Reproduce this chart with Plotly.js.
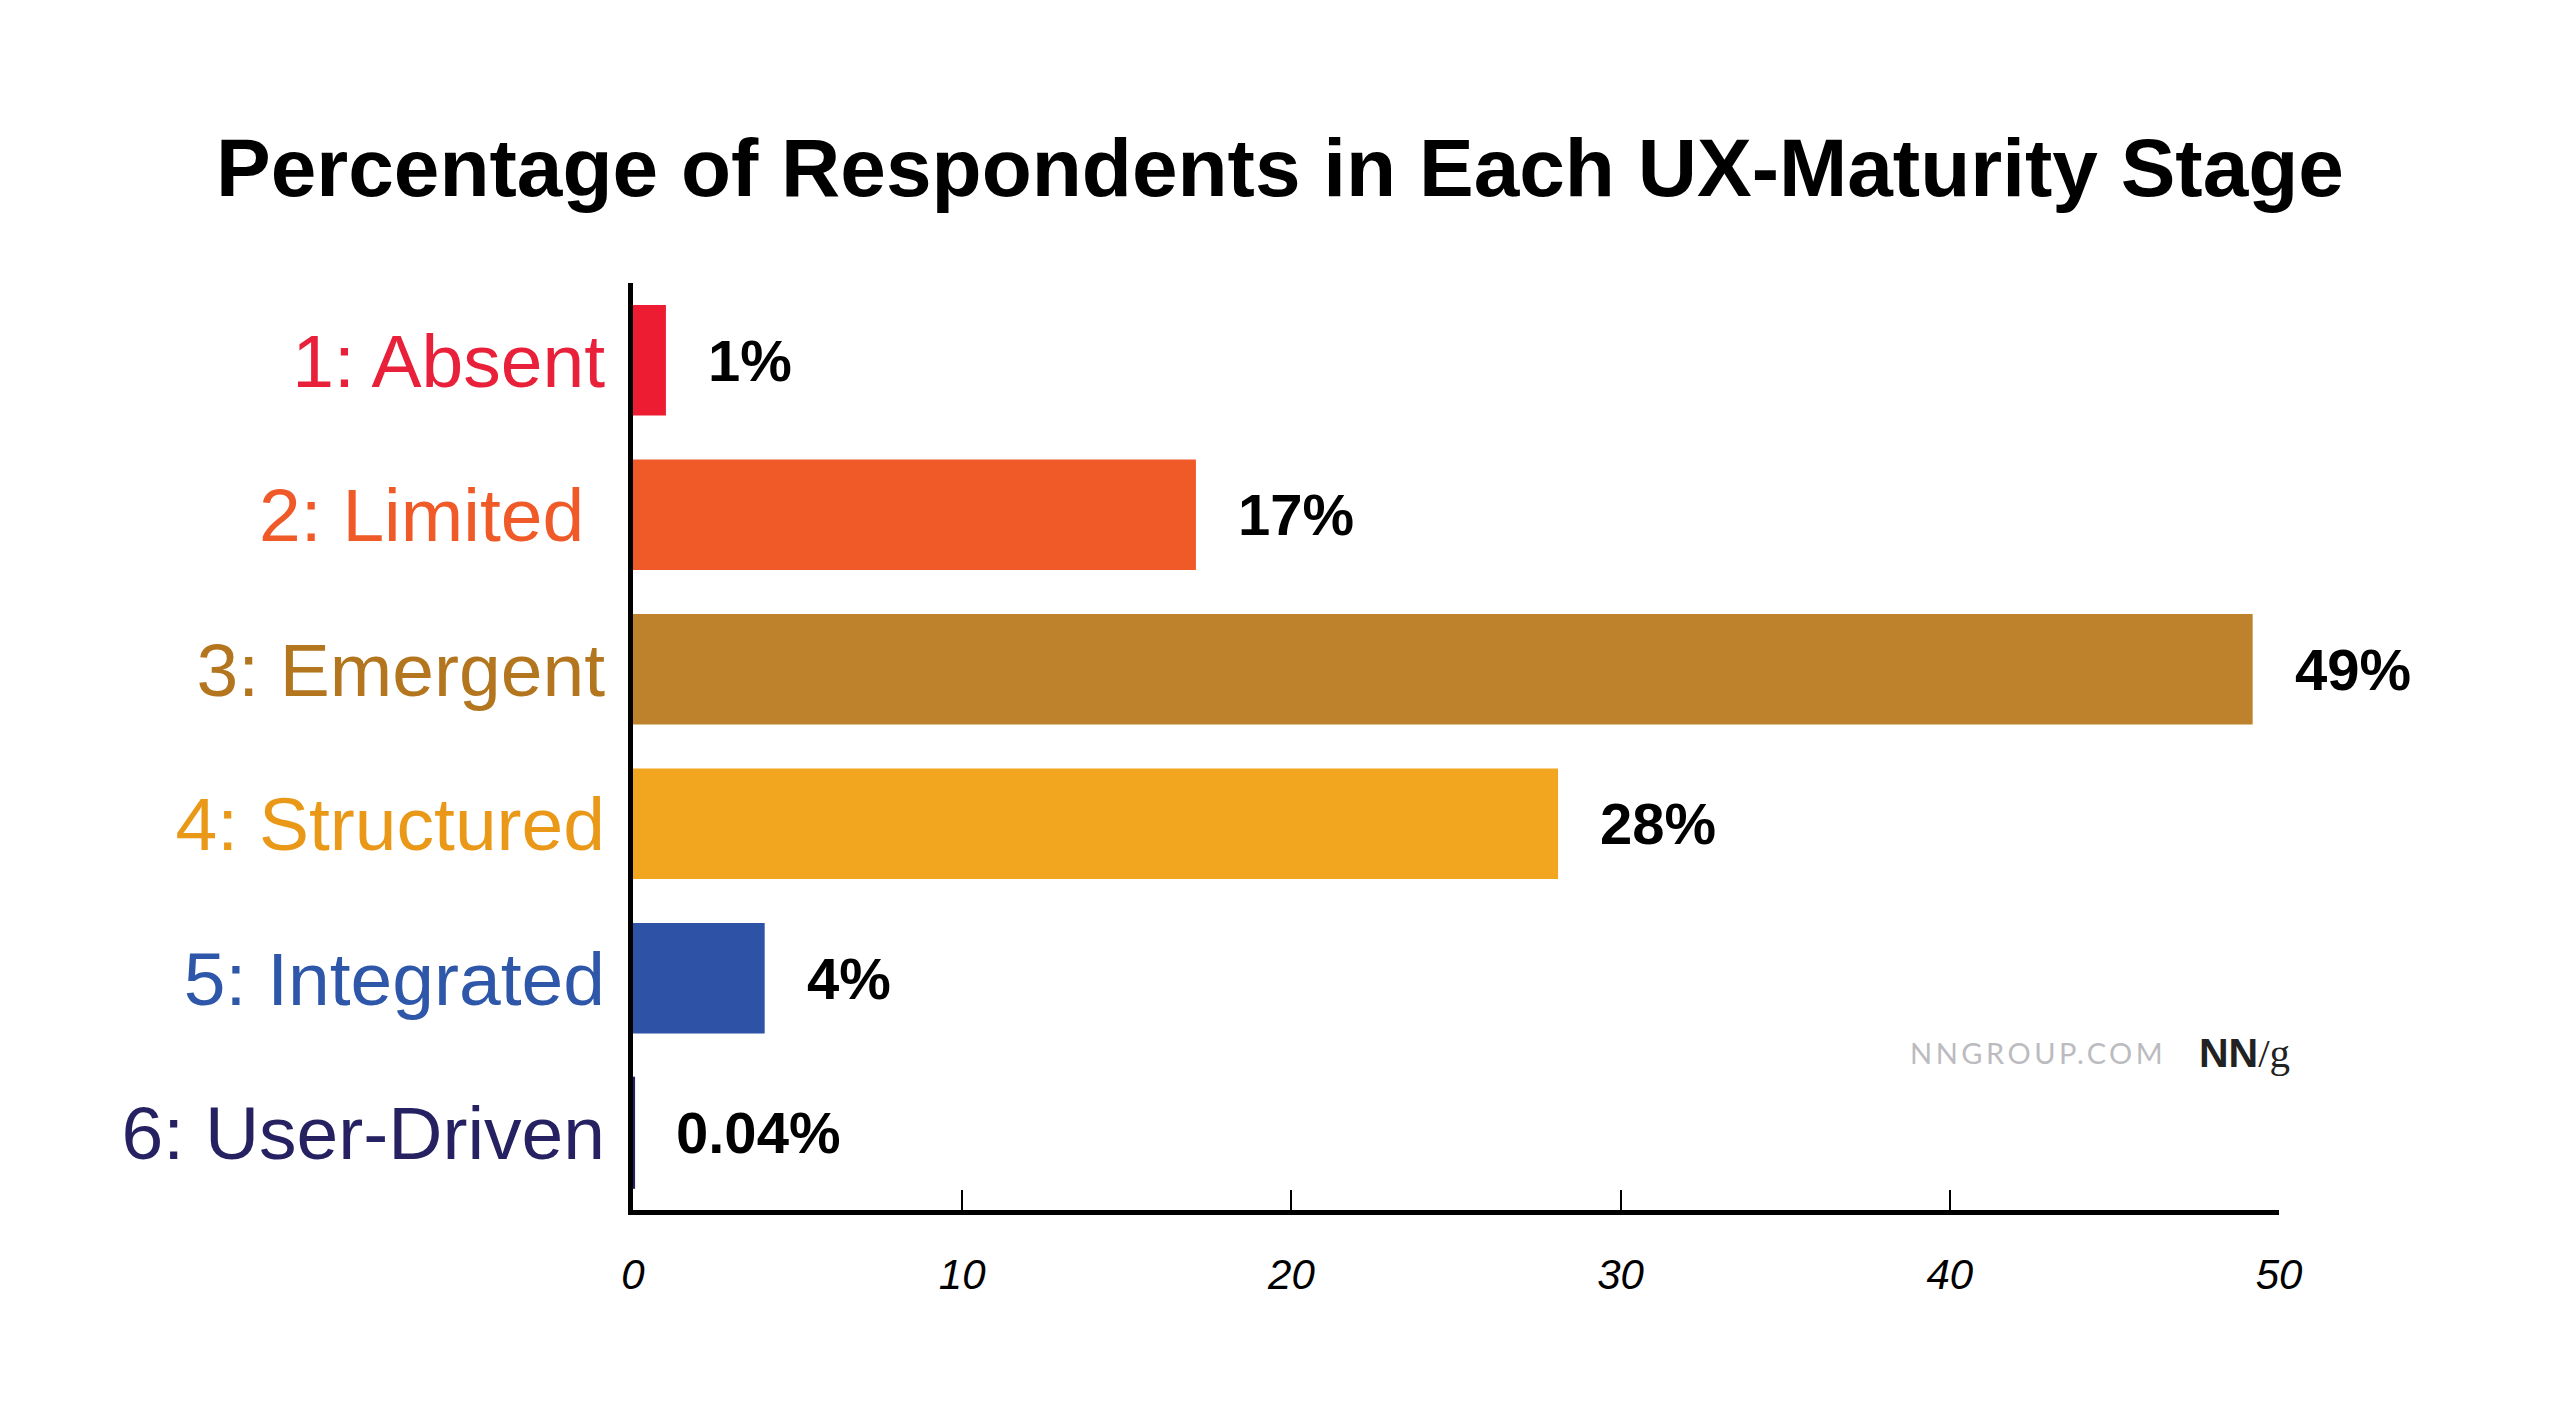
<!DOCTYPE html>
<html>
<head>
<meta charset="utf-8">
<script src="https://cdn.plot.ly/plotly-3.0.1.min.js"></script>
<style>
  html, body { margin: 0; padding: 0; background: #ffffff; }
  #chart { width: 2560px; height: 1427px; }
</style>
</head>
<body>
<div id="chart"></div>
<script>
// ---- data ----
const categories = ['1: Absent', '2: Limited\u00A0', '3: Emergent', '4: Structured', '5: Integrated', '6: User-Driven'];
const values = [1.0, 17.1, 49.2, 28.1, 4.0, 0.04];
const valueLabels = ['1%', '17%', '49%', '28%', '4%', '0.04%'];
const barColors = ['#ED1C33', '#F05A28', '#BE822D', '#F2A61F', '#2E52A5', '#262262'];
const labelColors = ['#E8203A', '#F05A28', '#B3761F', '#EA9818', '#2E57AA', '#262262'];
const xTickValues = [0, 10, 20, 30, 40, 50];
const xTickLabels = ['0', '10', '20', '30', '40', '50'];
const titleText = 'Percentage of Respondents in Each UX-Maturity Stage';

const trace = {
  type: 'bar',
  orientation: 'h',
  x: values,
  y: categories,
  marker: {
    color: barColors,
    line: { color: barColors, width: values.map(v => v < 0.5 ? 1.5 : 0) }
  },
  hoverinfo: 'none',
  cliponaxis: false
};

const annotations = values.map((v, i) => ({
  x: v, y: categories[i], xref: 'x', yref: 'y',
  text: valueLabels[i],
  showarrow: false,
  xanchor: 'left', yanchor: 'middle',
  xshift: 40,
  font: { family: 'Liberation Sans, Arial, sans-serif', size: 58, color: '#000000', weight: 'bold' }
}));

annotations.push({
  x: 0.9326, y: 0.1694, xref: 'paper', yref: 'paper',
  xanchor: 'right', yanchor: 'middle', showarrow: false,
  text: '<span style="letter-spacing:3.5px">NNGROUP.COM</span>',
  font: { family: 'Lato, DejaVu Sans, sans-serif', size: 29, color: '#BBBBC0' }
});
annotations.push({
  x: 0.9502, y: 0.1694, xref: 'paper', yref: 'paper',
  xanchor: 'left', yanchor: 'middle', showarrow: false,
  text: '<span style="font-family:Liberation Sans;font-weight:bold">NN</span><span style="font-family:Liberation Serif">/g</span>',
  font: { family: 'Liberation Sans, sans-serif', size: 41, color: '#222222' }
});

const layout = {
  width: 2560,
  height: 1427,
  paper_bgcolor: '#ffffff',
  plot_bgcolor: '#ffffff',
  margin: { l: 633, r: 281, t: 283, b: 217, pad: 0 },
  showlegend: false,
  bargap: 0.284,
  title: {
    text: titleText,
    x: 0.5, xref: 'container', xanchor: 'center',
    y: 0.883, yref: 'container', yanchor: 'middle',
    font: { family: 'Liberation Sans, Arial, sans-serif', size: 82, color: '#000000', weight: 'bold' }
  },
  xaxis: {
    range: [0, 50],
    tickmode: 'array',
    tickvals: xTickValues,
    ticktext: xTickLabels,
    ticks: 'inside',
    ticklen: 20,
    tickwidth: 2,
    tickcolor: '#000000',
    showline: true,
    linecolor: '#000000',
    linewidth: 5,
    showgrid: false,
    zeroline: false,
    ticklabelstandoff: 24,
    tickfont: { family: 'Liberation Sans, Arial, sans-serif', size: 42, color: '#000000', style: 'italic' },
    fixedrange: true
  },
  yaxis: {
    type: 'category',
    categoryorder: 'array',
    categoryarray: categories,
    range: [categories.length - 0.5, -0.5],
    tickmode: 'array',
    tickvals: categories,
    ticktext: categories.map((c, i) => '<span style="color:' + labelColors[i] + '">' + c + '</span>'),
    ticks: '',
    showline: true,
    linecolor: '#000000',
    linewidth: 5,
    showgrid: false,
    zeroline: false,
    ticklabelstandoff: 8,
    tickfont: { family: 'Liberation Sans, Arial, sans-serif', size: 75, color: '#000000' },
    fixedrange: true
  },
  annotations: annotations
};

Plotly.newPlot('chart', [trace], layout, { displayModeBar: false, staticPlot: true });
</script>
</body>
</html>
